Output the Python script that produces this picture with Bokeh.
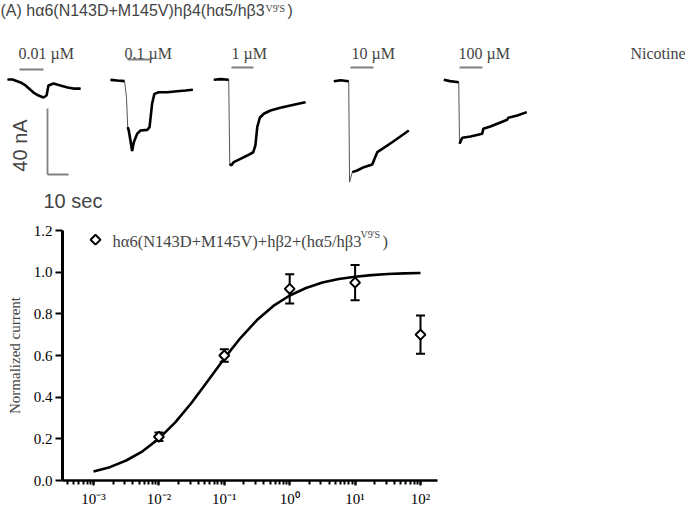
import numpy as np
from bokeh.plotting import figure
from bokeh.models import (Range1d, Label, Whisker, ColumnDataSource, TeeHead,
                          LogTicker, FixedTicker, CustomJSTickFormatter, PrintfTickFormatter)
from bokeh.embed import file_html
from bokeh.resources import INLINE

# ---------------- Panel A data: current traces (time s, current nA) ----------------
conc_labels = ["0.01 \u00b5M", "0.1 \u00b5M", "1 \u00b5M", "10 \u00b5M", "100 \u00b5M"]
t1 = [0, 2.4, 6.2, 8.6, 12.4, 14.8, 17.1, 18.6, 19.5, 21.9, 25.2, 28.6, 31.4, 34.8]
i1 = [0, 0, -1.8, -3.6, -7.9, -9.7, -10.9, -9.7, -3.6, -2.4, -3.6, -4.8, -5.5, -5.5]
t2 = [0, 3.2, 6.7, 7.6, 8.2, 8.7, 9.5, 10.3, 11.1, 12.7, 14.3, 17.5, 18.6, 19.8, 20.9, 23.0, 27.0, 31.7, 35.7, 39.2]
i2 = [0.4, 0, -0.4, -10.1, -28.3, -30.3, -36.4, -42.8, -37.4, -32.3, -30.3, -29.9, -28.3, -14.1, -8.1, -7.1, -7.1, -6.5, -6.1, -5.6]
t3 = [0, 3.2, 7.1, 7.6, 8.3, 9.5, 12.7, 15.9, 18.8, 19.8, 20.7, 21.9, 23.8, 27.0, 31.7, 36.5, 41.3, 43.7]
i3 = [0, 0.4, 0, -50.9, -51.9, -49.9, -47.9, -45.9, -43.9, -39.8, -28.7, -23.0, -20.6, -18.6, -17.0, -15.6, -14.2, -13.6]
t4 = [0, 3.2, 7.1, 7.5, 8.8, 11.1, 14.3, 18.3, 19.4, 20.7, 23.8, 27.8, 31.7, 35.7]
i4 = [0, 0.6, 0, -61.2, -55.1, -54.1, -52.1, -50.5, -47.0, -43.0, -40.4, -37.0, -33.5, -29.9]
t5 = [0, 2.9, 7.1, 7.5, 8.8, 12.7, 18.3, 18.8, 22.2, 30.2, 30.7, 35.0, 39.5]
i5 = [0, -0.8, -1.5, -38.8, -35.1, -34.4, -32.7, -29.7, -28.3, -24.2, -23.0, -21.6, -19.6]
app_on = [5.7, 8.1, 8.4, 7.9, 7.5]     # nicotine application start (s, from trace start)
app_off = [17.1, 19.0, 18.9, 18.9, 18.4]
scale_nA = 40
scale_s = 10

# ---------------- Panel B data: concentration-response ----------------
conc = [0.01, 0.1, 1, 10, 100]
resp = [0.21, 0.60, 0.92, 0.95, 0.70]
sem = [0.02, 0.03, 0.07, 0.085, 0.092]
fit_logx = [-3.0, -2.75, -2.5, -2.25, -2.0, -1.75, -1.5, -1.25, -1.0, -0.75, -0.5, -0.25,
            0.0, 0.25, 0.5, 0.75, 1.0, 1.25, 1.5, 1.75, 2.0]
fit_y = [0.043, 0.064, 0.096, 0.140, 0.201, 0.279, 0.373, 0.479, 0.586, 0.685, 0.770, 0.838,
         0.888, 0.924, 0.950, 0.967, 0.978, 0.986, 0.991, 0.994, 0.996]
x_label = "[nicotine] (\u00b5M)"
y_label = "Normalized current"
legend_main = "h\u03b16(N143D+M145V)+h\u03b22+(h\u03b15/h\u03b23"

# ---------------- layout helpers (reference pixel -> data) ----------------
W = 685
HA = 210
HB = 314
S_PER_PX = 10 / 21
NA_PER_PX = 40 / 66
def ax(px):
    return px * S_PER_PX
def ay(py):
    return (80 - py) * NA_PER_PX
def bx(px):
    return 10 ** (-3 + (px - 93) / 65.4)
def by(py):
    return (480 - py) / 208.5

SANS = "Liberation Sans"
SERIF = "Liberation Serif"

# ---------------- Panel A ----------------
pa = figure(width=W, height=HA, x_range=Range1d(ax(0), ax(W)), y_range=Range1d(ay(HA), ay(0)),
            x_axis_type=None, y_axis_type=None, min_border=0, toolbar_location=None,
            output_backend="svg")
pa.grid.visible = False
pa.outline_line_color = None

traces = [(t1, i1), (t2, i2), (t3, i3), (t4, i4), (t5, i5)]
trace_x0 = [7, 110, 213.3, 333.3, 443.3]
trace_base = [79, 80, 79.3, 80.7, 79.3]
fast_seg = [None, (2, 4), (2, 3), (2, 4), (2, 3)]
bar_y = [69, 59, 67, 67, 67]
label_left = [18, 124, 231, 351, 458]

for k, (tt, ii) in enumerate(traces):
    xs = [ax(trace_x0[k]) + v for v in tt]
    ys = [ay(trace_base[k]) + v for v in ii]
    pa.line(xs, ys, line_color="#555555", line_width=1)
    if fast_seg[k] is None:
        pa.line(xs, ys, line_color="black", line_width=2.6)
    else:
        a, b = fast_seg[k]
        pa.line(xs[:a + 1], ys[:a + 1], line_color="black", line_width=2.6)
        pa.line(xs[b:], ys[b:], line_color="black", line_width=2.6)
    x_on = ax(trace_x0[k]) + app_on[k]
    x_off = ax(trace_x0[k]) + app_off[k]
    pa.segment(x0=[x_on], y0=[ay(bar_y[k])], x1=[x_off], y1=[ay(bar_y[k])],
               line_color="#808080", line_width=2)
    pa.add_layout(Label(x=ax(label_left[k]), y=ay(53), text=conc_labels[k], text_font=SERIF,
                        text_font_size="16px", text_baseline="middle", text_align="left"))

pa.add_layout(Label(x=ax(685), y=ay(53), text="Nicotine", text_font=SERIF,
                    text_font_size="16px", text_baseline="middle", text_align="right"))

# scale bars
sb_x = ax(47)
sb_y = ay(174)
pa.segment(x0=[sb_x], y0=[sb_y], x1=[sb_x], y1=[sb_y + scale_nA], line_color="#808080", line_width=1.8)
pa.segment(x0=[sb_x], y0=[sb_y], x1=[sb_x + scale_s], y1=[sb_y], line_color="#808080", line_width=1.8)
pa.add_layout(Label(x=ax(19), y=ay(145), text=f"{scale_nA} nA", angle=np.pi / 2, text_font=SANS,
                    text_font_size="20px", text_align="center", text_baseline="middle"))
pa.add_layout(Label(x=ax(43), y=ay(200), text=f"{scale_s} sec", text_font=SANS,
                    text_font_size="20px", text_align="left", text_baseline="middle"))

# title
pa.add_layout(Label(x=ax(0), y=ay(1), text="(A) h\u03b16(N143D+M145V)h\u03b24(h\u03b15/h\u03b23",
                    text_font=SANS, text_font_size="16px", text_baseline="top", text_align="left"))
pa.add_layout(Label(x=ax(265), y=ay(2), text="V9'S", text_font=SERIF,
                    text_font_size="10px", text_baseline="top", text_align="left"))
pa.add_layout(Label(x=ax(287), y=ay(1), text=")", text_font=SANS,
                    text_font_size="16px", text_baseline="top", text_align="left"))

# ---------------- Panel B ----------------
pb = figure(width=W, height=HB, x_axis_type="log",
            x_range=Range1d(bx(62), bx(437)), y_range=Range1d(0, 1.2),
            min_border_left=62, min_border_right=W - 437, min_border_top=20, min_border_bottom=44,
            toolbar_location=None, output_backend="svg")
pb.grid.visible = False
pb.outline_line_color = None

pb.yaxis.ticker = FixedTicker(ticks=[0, 0.2, 0.4, 0.6, 0.8, 1.0, 1.2])
pb.yaxis.formatter = PrintfTickFormatter(format="%.1f")
pb.xaxis.ticker = LogTicker(desired_num_ticks=6, num_minor_ticks=10)
pb.xaxis.formatter = CustomJSTickFormatter(code="""
const e = Math.round(Math.log10(tick));
const sup = {'-':'\u207b','0':'\u2070','1':'\u00b9','2':'\u00b2','3':'\u00b3','4':'\u2074',
             '5':'\u2075','6':'\u2076','7':'\u2077','8':'\u2078','9':'\u2079'};
return '10' + String(e).split('').map(c => sup[c]).join('');
""")
for axis in (pb.xaxis[0], pb.yaxis[0]):
    axis.major_label_text_font = SERIF
    axis.major_label_text_font_size = "15px"
    axis.major_label_text_color = "black"
    axis.axis_line_color = "black"
    axis.major_tick_line_color = "black"
    axis.minor_tick_line_color = "black"
    axis.major_label_standoff = 3
pb.xaxis.major_label_standoff = 5
pb.yaxis.axis_line_width = 3
pb.xaxis.axis_line_width = 2.5
pb.yaxis.major_tick_out = 7
pb.yaxis.major_tick_in = 0
pb.yaxis.major_tick_line_width = 2
pb.yaxis.minor_tick_line_color = None
pb.xaxis.major_tick_out = 5
pb.xaxis.major_tick_in = 0
pb.xaxis.minor_tick_out = 4
pb.xaxis.minor_tick_in = 0
pb.xaxis.major_tick_line_width = 2
pb.xaxis.minor_tick_line_width = 2
pb.yaxis.axis_label = y_label
pb.yaxis.axis_label_text_font = SERIF
pb.yaxis.axis_label_text_font_style = "normal"
pb.yaxis.axis_label_text_font_size = "15px"
pb.yaxis.axis_label_standoff = 8

pb.line([10 ** v for v in fit_logx], fit_y, line_color="black", line_width=2.6)

src = ColumnDataSource(dict(x=conc, y=resp, upper=[r + s for r, s in zip(resp, sem)],
                            lower=[r - s for r, s in zip(resp, sem)]))
pb.add_layout(Whisker(base="x", upper="upper", lower="lower", source=src, line_width=2,
                      line_color="black",
                      upper_head=TeeHead(size=9, line_width=2, line_color="black"),
                      lower_head=TeeHead(size=9, line_width=2, line_color="black")))
pb.scatter("x", "y", source=src, marker="square", angle=np.pi / 4, size=7,
           fill_color="white", line_color="black", line_width=2)

# legend
pb.scatter([bx(95)], [by(239)], marker="square", angle=np.pi / 4, size=7,
           fill_color="white", line_color="black", line_width=2)
pb.add_layout(Label(x=bx(112), y=by(241), text=legend_main, text_font=SERIF,
                    text_font_size="16.5px", text_baseline="middle", text_align="left"))
pb.add_layout(Label(x=bx(360), y=by(234), text="V9'S", text_font=SERIF,
                    text_font_size="10px", text_baseline="middle", text_align="left"))
pb.add_layout(Label(x=bx(382), y=by(241), text=")", text_font=SERIF,
                    text_font_size="16.5px", text_baseline="middle", text_align="left"))

# panel label and x label
pb.add_layout(Label(x=bx(0), y=by(233), text="(B)", text_font=SANS,
                    text_font_size="15px", text_baseline="middle", text_align="left"))
pb.add_layout(Label(x=bx(248), y=by(512), text=x_label, text_font=SERIF,
                    text_font_size="15px", text_baseline="middle", text_align="center"))

open("out.html", "w").write(file_html([pa, pb], INLINE))
